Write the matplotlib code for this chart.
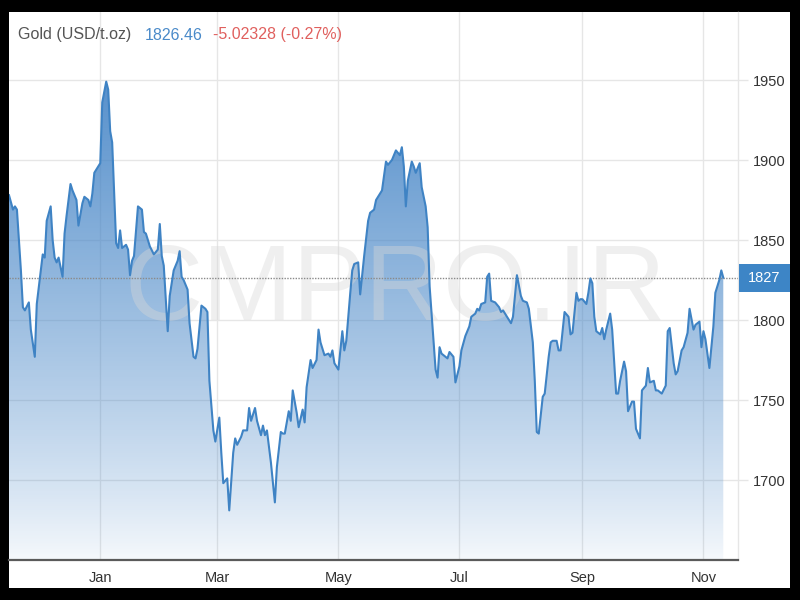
import matplotlib
matplotlib.use('Agg')
import matplotlib.pyplot as plt
import matplotlib.dates as mdates
import matplotlib.transforms as mtransforms
from matplotlib.patches import Rectangle, PathPatch
from matplotlib.path import Path
import numpy as np
import pandas as pd

# ---------------- data ----------------
dates = [
'2020-11-16','2020-11-18','2020-11-19','2020-11-20','2020-11-22','2020-11-23','2020-11-24','2020-11-26','2020-11-27','2020-11-29',
'2020-11-30','2020-12-02','2020-12-03','2020-12-04','2020-12-05','2020-12-07','2020-12-08','2020-12-09','2020-12-10','2020-12-11',
'2020-12-13','2020-12-14','2020-12-15','2020-12-17','2020-12-18','2020-12-20','2020-12-21','2020-12-23','2020-12-24','2020-12-26',
'2020-12-27','2020-12-28','2020-12-29','2020-12-31','2021-01-01','2021-01-02','2021-01-04','2021-01-05','2021-01-06','2021-01-07',
'2021-01-09','2021-01-10','2021-01-11','2021-01-12','2021-01-14','2021-01-15','2021-01-16','2021-01-17','2021-01-18','2021-01-20',
'2021-01-22','2021-01-23','2021-01-24','2021-01-26','2021-01-28','2021-01-30','2021-01-31','2021-02-01','2021-02-02','2021-02-04',
'2021-02-05','2021-02-07','2021-02-09','2021-02-10','2021-02-11','2021-02-12','2021-02-14','2021-02-15','2021-02-17','2021-02-18',
'2021-02-19','2021-02-21','2021-02-23','2021-02-24','2021-02-25','2021-02-27','2021-02-28','2021-03-02','2021-03-03','2021-03-04',
'2021-03-06','2021-03-07','2021-03-09','2021-03-10','2021-03-11','2021-03-13','2021-03-14','2021-03-16','2021-03-17','2021-03-18',
'2021-03-20','2021-03-21','2021-03-23','2021-03-24','2021-03-25','2021-03-26','2021-03-28','2021-03-30','2021-03-31','2021-04-02',
'2021-04-03','2021-04-04','2021-04-06','2021-04-07','2021-04-08','2021-04-10','2021-04-11','2021-04-13','2021-04-14','2021-04-15',
'2021-04-17','2021-04-18','2021-04-20','2021-04-21','2021-04-22','2021-04-24','2021-04-26','2021-04-27','2021-04-28','2021-04-29',
'2021-05-01','2021-05-03','2021-05-04','2021-05-05','2021-05-07','2021-05-08','2021-05-09','2021-05-11','2021-05-12','2021-05-14',
'2021-05-16','2021-05-17','2021-05-19','2021-05-20','2021-05-22','2021-05-23','2021-05-25','2021-05-26','2021-05-28','2021-05-29',
'2021-05-30','2021-06-01','2021-06-02','2021-06-03','2021-06-04','2021-06-05','2021-06-07','2021-06-08','2021-06-09','2021-06-11',
'2021-06-12','2021-06-14','2021-06-15','2021-06-16','2021-06-18','2021-06-19','2021-06-20','2021-06-21','2021-06-22','2021-06-23',
'2021-06-25','2021-06-26','2021-06-28','2021-06-29','2021-07-01','2021-07-02','2021-07-04','2021-07-06','2021-07-07','2021-07-09',
'2021-07-10','2021-07-11','2021-07-12','2021-07-14','2021-07-15','2021-07-16','2021-07-17','2021-07-19','2021-07-21','2021-07-22',
'2021-07-23','2021-07-25','2021-07-27','2021-07-28','2021-07-30','2021-08-01','2021-08-02','2021-08-04','2021-08-05','2021-08-07',
'2021-08-08','2021-08-09','2021-08-10','2021-08-12','2021-08-13','2021-08-15','2021-08-16','2021-08-17','2021-08-19','2021-08-20',
'2021-08-21','2021-08-23','2021-08-25','2021-08-26','2021-08-27','2021-08-29','2021-08-30','2021-08-31','2021-09-01','2021-09-03',
'2021-09-04','2021-09-05','2021-09-06','2021-09-07','2021-09-08','2021-09-10','2021-09-11','2021-09-12','2021-09-13','2021-09-15',
'2021-09-16','2021-09-18','2021-09-19','2021-09-20','2021-09-22','2021-09-23','2021-09-24','2021-09-26','2021-09-27','2021-09-28',
'2021-09-30','2021-10-01','2021-10-03','2021-10-04','2021-10-05','2021-10-07','2021-10-08','2021-10-09','2021-10-11','2021-10-13',
'2021-10-14','2021-10-15','2021-10-17','2021-10-18','2021-10-19','2021-10-21','2021-10-22','2021-10-24','2021-10-25','2021-10-27',
'2021-10-28','2021-10-30','2021-10-31','2021-11-01','2021-11-02','2021-11-04','2021-11-06','2021-11-07','2021-11-09','2021-11-10',
'2021-11-11']

prices = [
1878, 1869, 1871, 1869, 1831, 1808, 1806, 1811, 1794, 1777,
1810, 1831, 1841, 1839, 1862, 1871, 1850, 1839, 1836, 1839,
1827, 1854, 1865, 1885, 1881, 1875, 1859, 1873, 1877, 1875,
1871, 1879, 1892, 1896, 1898, 1936, 1949, 1944, 1918, 1911,
1848, 1845, 1856, 1845, 1847, 1844, 1828, 1837, 1840, 1871,
1869, 1855, 1854, 1846, 1841, 1844, 1860, 1840, 1834, 1793,
1815, 1831, 1837, 1843, 1827, 1825, 1819, 1798, 1777, 1776,
1782, 1809, 1807, 1805, 1762, 1731, 1724, 1739, 1717, 1698,
1701, 1681, 1717, 1726, 1722, 1727, 1731, 1731, 1745, 1737,
1745, 1737, 1728, 1734, 1728, 1731, 1711, 1686, 1708, 1730,
1729, 1729, 1743, 1737, 1756, 1742, 1733, 1744, 1736, 1758,
1775, 1770, 1775, 1794, 1786, 1778, 1779, 1777, 1781, 1773,
1769, 1793, 1781, 1787, 1817, 1831, 1835, 1836, 1816, 1840,
1862, 1867, 1869, 1875, 1879, 1881, 1899, 1897, 1900, 1903,
1906, 1903, 1908, 1896, 1871, 1887, 1899, 1896, 1892, 1898,
1883, 1871, 1858, 1821, 1786, 1769, 1764, 1783, 1779, 1778,
1776, 1780, 1777, 1761, 1771, 1781, 1790, 1796, 1802, 1804,
1807, 1806, 1810, 1811, 1827, 1829, 1812, 1811, 1808, 1805,
1806, 1802, 1798, 1802, 1828, 1815, 1812, 1811, 1807, 1786,
1762, 1730, 1729, 1752, 1754, 1777, 1786, 1787, 1787, 1781,
1781, 1805, 1802, 1791, 1792, 1817, 1812, 1813, 1813, 1810,
1817, 1826, 1823, 1802, 1793, 1791, 1795, 1788, 1794, 1804,
1794, 1754, 1754, 1762, 1774, 1768, 1743, 1749, 1749, 1732,
1726, 1756, 1759, 1770, 1761, 1762, 1756, 1756, 1754, 1759,
1793, 1795, 1773, 1766, 1768, 1781, 1783, 1792, 1807, 1794,
1797, 1799, 1783, 1793, 1788, 1770, 1796, 1817, 1825, 1831,
1826.46]

y_ticks = [1700, 1750, 1800, 1850, 1900, 1950]
x_tick_dates = ['2021-01-01', '2021-03-01', '2021-05-01', '2021-07-01', '2021-09-01', '2021-11-01']
x_tick_labels = ['Jan', 'Mar', 'May', 'Jul', 'Sep', 'Nov']
title_name = 'Gold (USD/t.oz)'
last_price_text = '1826.46'
change_text = '-5.02328 (-0.27%)'
marker_label = '1827'
watermark_text = 'CMPRO.IR'

# ---------------- style ----------------
plt.rcParams['font.family'] = ['Liberation Sans', 'DejaVu Sans']

W, H = 800, 600
fig = plt.figure(figsize=(8, 6), dpi=100, facecolor='black')
fig.add_artist(Rectangle((9 / W, 12 / H), 781 / W, 576 / H, transform=fig.transFigure,
                         facecolor='white', edgecolor='none', zorder=-10))

ax = fig.add_axes([9 / W, 40 / H, 729 / W, 548 / H])
ax.set_facecolor('none')

x = mdates.date2num(pd.to_datetime(dates))
y = np.array(prices, dtype=float)

y_bottom, y_top = 1650, 1992.5
x_left = mdates.date2num(pd.Timestamp('2020-11-16'))
x_right = mdates.date2num(pd.Timestamp('2021-11-18 10:00'))

line_color = '#3f83c4'

# gradient area fill
n = 256
t = np.linspace(0, 1, n)[:, None]
rgba = np.zeros((n, 1, 4))
rgba[..., 0] = 0.27
rgba[..., 1] = 0.52
rgba[..., 2] = 0.78
rgba[..., 3] = 0.05 + 0.95 * t ** 0.85
im = ax.imshow(rgba, extent=[x_left, x_right, y_bottom, y_top], origin='lower',
               aspect='auto', interpolation='bilinear', zorder=1)
verts = [(x[0], y_bottom)] + list(zip(x, y)) + [(x[-1], y_bottom), (x[0], y_bottom)]
clip_patch = PathPatch(Path(verts), transform=ax.transData, facecolor='none', edgecolor='none')
ax.add_patch(clip_patch)
im.set_clip_path(clip_patch)

# watermark
ax.text((395 - 9) / 729, (560 - 292) / 548, watermark_text, transform=ax.transAxes,
        fontsize=78, color='#d8d8d8', alpha=0.4, ha='center', va='center', zorder=3)

# price line
ax.plot(x, y, color=line_color, lw=1.5, zorder=5, solid_joinstyle='round')

# last-price line
ax.axhline(y[-1], color='#8a8a8a', lw=1, ls=(0, (1, 1)), zorder=4)

ax.set_xlim(x_left, x_right)
ax.set_ylim(y_bottom, y_top)

# grid / ticks
ax.set_yticks(y_ticks)
ax.set_xticks(mdates.date2num(pd.to_datetime(x_tick_dates)))
ax.set_xticklabels(x_tick_labels)
ax.grid(True, color='#e6e6e6', lw=1)
ax.set_axisbelow(True)
ax.yaxis.tick_right()
ax.tick_params(axis='y', length=7.5, width=1, color='#e6e6e6', pad=3,
               labelsize=10.5, labelcolor='#333333')
ax.tick_params(axis='x', length=0, pad=8, labelsize=10.5, labelcolor='#333333')

for s in ['top', 'left']:
    ax.spines[s].set_visible(False)
ax.spines['right'].set_color('#e6e6e6')
ax.spines['right'].set_linewidth(1)
ax.spines['bottom'].set_color('#5a5a5a')
ax.spines['bottom'].set_linewidth(1.6)

# last-price marker box
trans = mtransforms.blended_transform_factory(fig.transFigure, ax.transData)
px_per_unit = 548 / (y_top - y_bottom)
fig.add_artist(Rectangle((739 / W, y[-1] - 14 / px_per_unit), 51 / W, 28 / px_per_unit,
                         transform=trans, facecolor='#3d85c6', edgecolor='none', zorder=5))
fig.text(764 / W, y[-1], marker_label, transform=trans, color='white', fontsize=10.5,
         ha='center', va='center', zorder=6)

# title
fig.text(18 / W, 1 - 35 / H, title_name, color='#555555', fontsize=11.5, ha='left', va='center')
fig.text(145 / W, 1 - 35 / H, last_price_text, color='#4a8ac9', fontsize=11.5, ha='left', va='center')
fig.text(213 / W, 1 - 35 / H, change_text, color='#e0605e', fontsize=11.5, ha='left', va='center')

fig.savefig('out.png', dpi=100, facecolor='black')
